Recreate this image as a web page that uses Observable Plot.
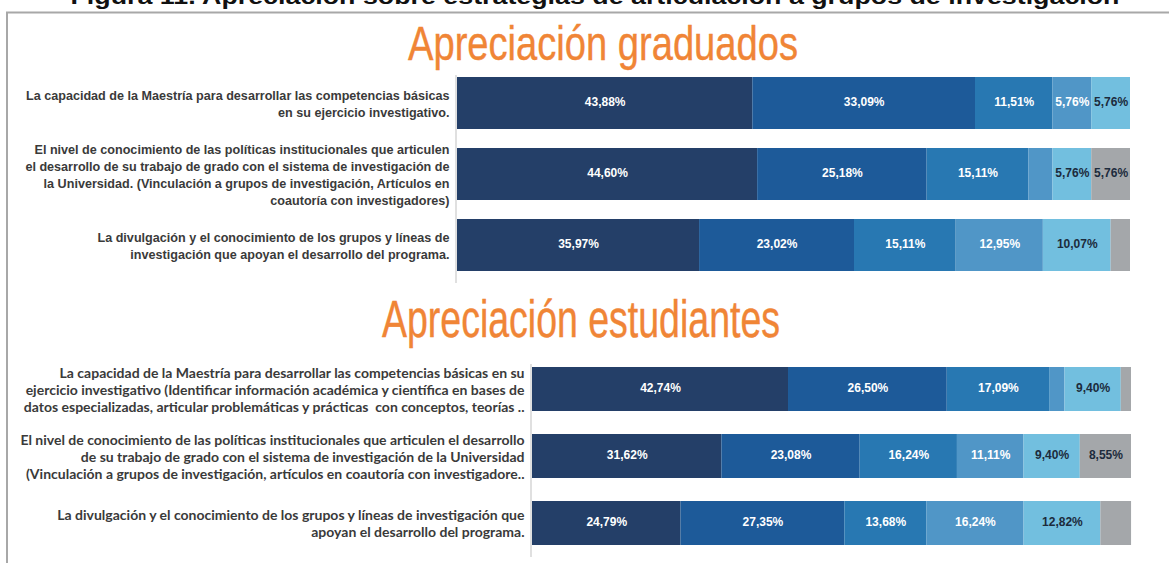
<!DOCTYPE html>
<html><head><meta charset="utf-8">
<script src="https://cdn.jsdelivr.net/npm/d3@7"></script>
<script src="https://cdn.jsdelivr.net/npm/@observablehq/plot@0.6"></script>
<style>
body{margin:0;background:#fff;}
#wrap{position:relative;width:1169px;height:563px;overflow:hidden;background:#fff;}
.abs{position:absolute;left:0;}
</style></head><body>
<div id="wrap">
<svg class="abs" style="top:0" width="1169" height="563">
  <text x="595" y="4" text-anchor="middle" font-family="Liberation Sans, Arial, sans-serif" font-weight="bold" font-size="22" fill="#111" textLength="1049" lengthAdjust="spacingAndGlyphs">Figura 11. Apreciación sobre estrategias de articulación a grupos de investigación</text>
  <path d="M7,563V12.5H1169" fill="none" stroke="#a8a8a8" stroke-width="2"/>
  <text x="603" y="60" text-anchor="middle" font-family="Liberation Sans, Arial, sans-serif" font-size="49" fill="#F08536" stroke="#F08536" stroke-width="0.4" textLength="390" lengthAdjust="spacingAndGlyphs">Apreciación graduados</text>
  <text x="581" y="337" text-anchor="middle" font-family="Liberation Sans, Arial, sans-serif" font-size="51" fill="#F08536" stroke="#F08536" stroke-width="0.4" textLength="398" lengthAdjust="spacingAndGlyphs">Apreciación estudiantes</text>
</svg>
<div id="top" class="abs" style="top:70px"></div>
<div id="bot" class="abs" style="top:350px"></div>
</div>
<script>
// ---- data ----
const levels = ["Nivel 1", "Nivel 2", "Nivel 3", "Nivel 4", "Nivel 5", "Nivel 6"];

const gradItems = [
  "La capacidad de la Maestría para desarrollar las competencias básicas\nen su ejercicio investigativo.",
  "El nivel de conocimiento de las políticas institucionales que articulen\nel desarrollo de su trabajo de grado con el sistema de investigación de\nla Universidad. (Vinculación a grupos de investigación, Artículos en\ncoautoría con investigadores)",
  "La divulgación y el conocimiento de los grupos y líneas de\ninvestigación que apoyan el desarrollo del programa."
];
const gradValues = [
  [43.88, 33.09, 11.51, 5.76, 5.76, 0],
  [44.60, 25.18, 15.11, 3.59, 5.76, 5.76],
  [35.97, 23.02, 15.11, 12.95, 10.07, 2.88]
];
const gradUnlabeled = [[1, 3], [2, 5]];

const estItems = [
  "La capacidad de la Maestría para desarrollar las competencias básicas en su\nejercicio investigativo (Identificar información académica y científica en bases de\ndatos especializadas, articular problemáticas y prácticas  con conceptos, teorías ..",
  "El nivel de conocimiento de las políticas institucionales que articulen el desarrollo\nde su trabajo de grado con el sistema de investigación de la Universidad\n(Vinculación a grupos de investigación, artículos en coautoría con investigadore..",
  "La divulgación y el conocimiento de los grupos y líneas de investigación que\napoyan el desarrollo del programa."
];
const estValues = [
  [42.74, 26.50, 17.09, 2.56, 9.40, 1.71],
  [31.62, 23.08, 16.24, 11.11, 9.40, 8.55],
  [24.79, 27.35, 13.68, 16.24, 12.82, 5.13]
];
const estUnlabeled = [[0, 3], [0, 5], [2, 5]];

// ---- styles ----
const colors = ["#243F68", "#1D5A99", "#2878B2", "#5096C7", "#72BFDF", "#A4A7AA"];
const darkText = new Set(["Nivel 5", "Nivel 6"]);
const fmt = v => v.toFixed(2).replace(".", ",") + "%";

function chart(items, values, unlabeled, o) {
  const rows = [];
  items.forEach((item, i) => values[i].forEach((v, j) => rows.push({
    item, level: levels[j], v,
    show: v > 0 && !unlabeled.some(([a, b]) => a === i && b === j)
  })));
  const pct = (dark) => Plot.text(rows, Plot.stackX({
    x: "v", y: "item", z: "level", order: null,
    text: d => (d.show && darkText.has(d.level) === dark) ? fmt(d.v) : null,
    fill: dark ? "#1c2b3c" : "#ffffff",
    fontSize: 12, fontWeight: "bold", fontFamily: "Liberation Sans, Arial, sans-serif", dy: -1
  }));
  return Plot.plot({
    width: 1169, height: o.height,
    marginLeft: o.left, marginRight: o.right, marginTop: o.mt, marginBottom: o.mb,
    x: {domain: [0, 100], axis: null},
    y: {domain: items, axis: null, paddingInner: o.pi, paddingOuter: 0},
    color: {domain: levels, range: colors},
    style: {background: "transparent", overflow: "visible"},
    marks: [
      Plot.ruleX([0], {stroke: "#d6d6d6", strokeWidth: 1.5, dx: -1.5, insetTop: -2, insetBottom: -12}),
      Plot.barX(rows, Plot.stackX({x: "v", y: "item", fill: "level", order: null})),
      pct(false),
      pct(true),
      Plot.text(items, {
        x: () => 0, y: d => d, text: d => d, textAnchor: "end", dx: -8,
        fontSize: o.fs, fontWeight: "bold", fontFamily: o.font, fill: "#3a3a3a",
        lineHeight: o.lh
      })
    ]
  });
}

document.getElementById("top").append(chart(gradItems, gradValues, gradUnlabeled, {
  height: 215, left: 457, right: 39, mt: 7, mb: 14, pi: 0.27,
  fs: 12.6, font: "Liberation Sans, Arial, sans-serif", lh: 1.35
}));
document.getElementById("bot").append(chart(estItems, estValues, estUnlabeled, {
  height: 210, left: 532, right: 38, mt: 16, mb: 15, pi: 0.348,
  fs: 14, font: "Lato, sans-serif", lh: 1.21
}));
</script>
</body></html>
